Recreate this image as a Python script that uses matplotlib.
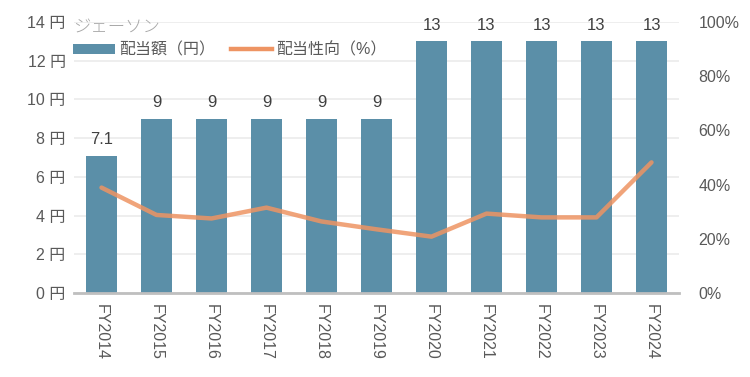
import matplotlib.pyplot as plt
from matplotlib.patches import Patch
from matplotlib.lines import Line2D

plt.rcParams['font.family'] = ['Liberation Sans', 'Noto Sans CJK JP', 'DejaVu Sans']

years = ['FY2014', 'FY2015', 'FY2016', 'FY2017', 'FY2018', 'FY2019',
         'FY2020', 'FY2021', 'FY2022', 'FY2023', 'FY2024']
dividend = [7.1, 9, 9, 9, 9, 9, 13, 13, 13, 13, 13]
payout = [38.9, 28.8, 27.5, 31.5, 26.4, 23.5, 20.8, 29.3, 27.9, 27.9, 48.2]
bar_labels = ['7.1', '9', '9', '9', '9', '9', '13', '13', '13', '13', '13']

bar_color = '#5b8fa8'
line_color = '#ee9463'
text_color = '#595959'

fig = plt.figure(figsize=(7.5, 3.77), dpi=100)
ax = fig.add_axes([74 / 750, 1 - 293 / 377, (679 - 74) / 750, (293 - 22) / 377])
x = list(range(len(years)))

ax.bar(x, dividend, width=0.56, color=bar_color, zorder=2)
for xi, v, lab in zip(x, dividend, bar_labels):
    ax.text(xi, v + 0.45, lab, ha='center', va='bottom', fontsize=12, color='#404040')

ax.set_ylim(0, 14)
ax.set_xlim(-0.5, 10.5)
ax.set_yticks(range(0, 15, 2))
ax.set_yticklabels([f'{v} 円' for v in range(0, 15, 2)])
ax.set_xticks(x)
ax.set_xticklabels(years, rotation=-90)
ax.grid(axis='y', color='#ebebeb', linewidth=1.2, zorder=0)
ax.set_axisbelow(True)
for s in ['top', 'right', 'left']:
    ax.spines[s].set_visible(False)
ax.spines['bottom'].set_color('#bfbfbf')
ax.spines['bottom'].set_linewidth(2)
ax.spines['bottom'].set_zorder(5)
ax.tick_params(axis='both', length=0, labelsize=11.5, colors=text_color, pad=6)
ax.tick_params(axis='x', pad=8)

ax2 = ax.twinx()
ax2.plot(x, payout, color=line_color, linewidth=3.2, alpha=0.85, solid_capstyle='round', zorder=3)
ax2.set_ylim(0, 100)
ax2.set_yticks(range(0, 101, 20))
ax2.set_yticklabels([f'{v}%' for v in range(0, 101, 20)])
for s in ['top', 'right', 'left', 'bottom']:
    ax2.spines[s].set_visible(False)
ax2.tick_params(axis='y', length=0, labelsize=11.5, colors=text_color, pad=14)

fig.text(73 / 750, 1 - 27.5 / 377, 'ジェーソン', fontsize=12.5, color='#a6a6a6',
         fontweight='light', va='center')

handles = [Patch(facecolor=bar_color, edgecolor='none'),
           Line2D([0], [0], color=line_color, linewidth=3.2)]
leg = ax.legend(handles, ['配当額（円）', '配当性向（%）'], loc='upper left',
                bbox_to_anchor=(67 / 750, 1 - 36 / 377), bbox_transform=fig.transFigure,
                ncol=2, frameon=False, fontsize=11.5, handlelength=2.6, handleheight=0.6,
                handletextpad=0.25, columnspacing=1.0, borderaxespad=0)
for t in leg.get_texts():
    t.set_color(text_color)

fig.savefig('out.png', dpi=100)
